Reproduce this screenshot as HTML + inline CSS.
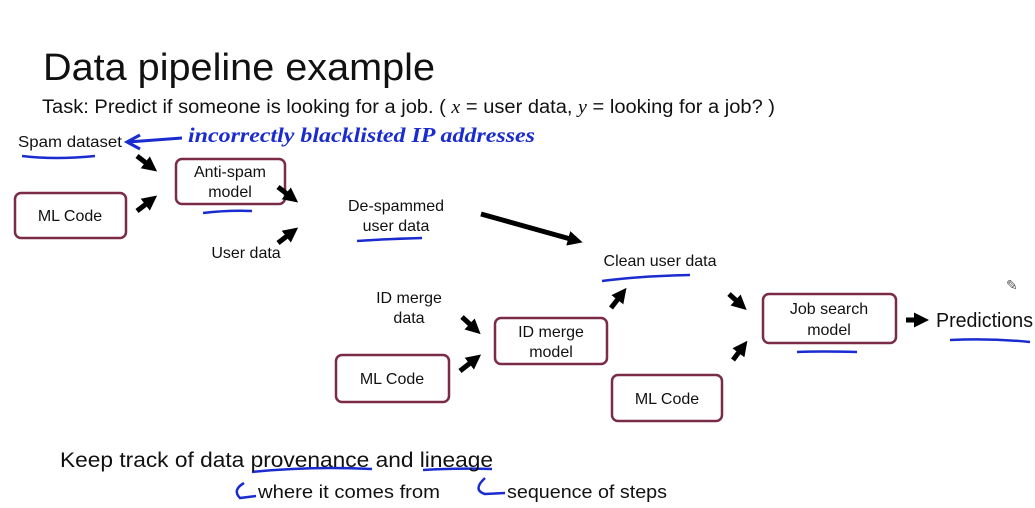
<!DOCTYPE html>
<html><head><meta charset="utf-8"><style>
body{margin:0;background:#fff;}
svg{display:block;font-family:"Liberation Sans",Arial,sans-serif;}
</style></head><body>
<svg width="1035" height="508" viewBox="0 0 1035 508" xmlns="http://www.w3.org/2000/svg">
<defs>
<marker id="a" markerWidth="3" markerHeight="3" refX="1.2" refY="1.5" orient="auto"><path d="M0,0 L3,1.5 L0,3 z" fill="#000"/></marker>
</defs>
<text x="43" y="80" font-size="38" fill="#111" textLength="392" lengthAdjust="spacingAndGlyphs">Data pipeline example</text>
<text x="42" y="113" font-size="19" fill="#111" textLength="733" lengthAdjust="spacingAndGlyphs">Task: Predict  if someone is looking for a job. ( <tspan font-style="italic" font-family="Liberation Serif">x</tspan> = user data, <tspan font-style="italic" font-family="Liberation Serif">y</tspan> = looking for a job? )</text>
<text x="18" y="147" font-size="16" fill="#111" textLength="104" lengthAdjust="spacingAndGlyphs">Spam dataset</text>
<path d="M22 156 Q55 160 95 156" stroke="#1a2bd0" stroke-width="2.5" fill="none"/>
<path d="M128 142 L182 138 M140 135 L127 142 L140 149" stroke="#1a2bd0" stroke-width="3" fill="none"/>
<text x="188" y="142" font-size="21" fill="#1a2bd0" font-style="italic" font-weight="bold" font-family="Liberation Serif" textLength="347" lengthAdjust="spacingAndGlyphs">incorrectly  blacklisted  IP  addresses</text>
<g fill="#fff" stroke="#7a2b45" stroke-width="2.5">
<rect x="176" y="159" width="109" height="45" rx="6"/>
<rect x="15" y="193" width="111" height="45" rx="6"/>
<rect x="495" y="318" width="112" height="46" rx="6"/>
<rect x="336" y="355" width="113" height="47" rx="6"/>
<rect x="612" y="375" width="110" height="46" rx="6"/>
<rect x="763" y="294" width="133" height="49" rx="6"/>
</g>
<g font-size="16" fill="#111" text-anchor="middle">
<text x="230" y="177">Anti-spam</text><text x="230" y="197">model</text>
<text x="70" y="221">ML Code</text>
<text x="551" y="337">ID merge</text><text x="551" y="357">model</text>
<text x="392" y="384">ML Code</text>
<text x="667" y="404">ML Code</text>
<text x="829" y="314">Job search</text><text x="829" y="335">model</text>
<text x="396" y="211">De-spammed</text><text x="396" y="231">user data</text>
<text x="246" y="258">User data</text>
<text x="409" y="303">ID merge</text><text x="409" y="323">data</text>
<text x="660" y="266">Clean user data</text>
</g>
<text x="936" y="327" font-size="20" fill="#111" textLength="97" lengthAdjust="spacingAndGlyphs">Predictions</text>
<g stroke="#000" stroke-width="5" marker-end="url(#a)">
<line x1="137" y1="156" x2="150" y2="166"/>
<line x1="137" y1="211" x2="150" y2="201"/>
<line x1="278" y1="187" x2="291" y2="197"/>
<line x1="278" y1="243" x2="291" y2="233"/>
<line x1="481" y1="214" x2="574" y2="240"/>
<line x1="462" y1="317" x2="474" y2="328"/>
<line x1="460" y1="371" x2="474" y2="360"/>
<line x1="611" y1="308" x2="621" y2="295"/>
<line x1="729" y1="294" x2="740" y2="304"/>
<line x1="733" y1="360" x2="742" y2="348"/>
<line x1="906" y1="320" x2="920" y2="320"/>
</g>
<g stroke="#1a2bd0" stroke-width="2.5" fill="none">
<path d="M203 213 Q228 210 252 211"/>
<path d="M357 241 Q385 239 422 238"/>
<path d="M602 281 Q640 276 690 275"/>
<path d="M797 352 Q820 351 857 352"/>
<path d="M950 340 Q990 338 1030 342"/>
<path d="M252 472 Q310 466 372 469"/>
<path d="M423 470 Q455 468 492 469"/>
<path d="M244 483 Q232 490 240 498 L256 496"/>
<path d="M485 478 Q472 490 485 494 L505 493"/>
</g>
<text x="1006" y="290" font-size="14" fill="#555">✎</text>
<text x="60" y="467" font-size="21" fill="#111" textLength="433" lengthAdjust="spacingAndGlyphs">Keep track of data provenance and lineage</text>
<text x="258" y="498" font-size="18" fill="#111" textLength="182" lengthAdjust="spacingAndGlyphs">where it comes from</text>
<text x="507" y="498" font-size="18" fill="#111" textLength="160" lengthAdjust="spacingAndGlyphs">sequence of steps</text>
</svg>
</body></html>
